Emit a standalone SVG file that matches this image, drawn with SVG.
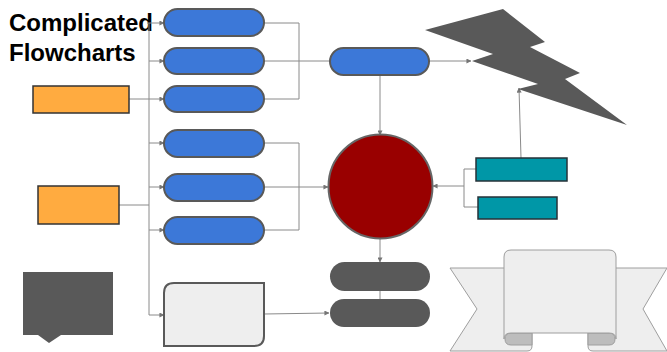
<svg xmlns="http://www.w3.org/2000/svg" width="667" height="352" viewBox="0 0 667 352">
  <defs>
    <marker id="arr" viewBox="0 0 6 6" refX="5.5" refY="3" markerWidth="5" markerHeight="5" orient="auto" markerUnits="userSpaceOnUse">
      <path d="M0,0 L6,3 L0,6 Z" fill="#757575"/>
    </marker>
  </defs>
  <style>
    .title { font-family: "Liberation Sans", Arial, sans-serif; font-weight: bold; font-size: 24px; fill: #000; }
    .pill { fill: #3c78d8; stroke: #595959; stroke-width: 2; }
    .dark { fill: #595959; stroke: none; }
    .orange { fill: #ffab40; stroke: #333333; stroke-width: 1.5; }
    .teal { fill: #0097a7; stroke: #263238; stroke-width: 1.5; }
    .wire { fill: none; stroke: #8a8a8a; stroke-width: 1; }
    .banner { fill: #eeeeee; stroke: #9e9e9e; stroke-width: 1; stroke-linejoin: round; }
    .fold { fill: #bdbdbd; stroke: #9e9e9e; stroke-width: 1; }
  </style>

  <text class="title" x="9" y="31">Complicated</text>
  <text class="title" x="9" y="61">Flowcharts</text>

  <!-- connectors -->
  <g id="connectors">
    <!-- left bus -->
    <path class="wire" d="M147,23 H149 V315"/>
    <path class="wire" d="M149,23 H164" marker-end="url(#arr)"/>
    <path class="wire" d="M149,61 H164" marker-end="url(#arr)"/>
    <path class="wire" d="M129,99 H164" marker-end="url(#arr)"/>
    <path class="wire" d="M149,143 H164" marker-end="url(#arr)"/>
    <path class="wire" d="M149,187 H164" marker-end="url(#arr)"/>
    <path class="wire" d="M149,230 H164" marker-end="url(#arr)"/>
    <path class="wire" d="M149,315 H164" marker-end="url(#arr)"/>
    <path class="wire" d="M119,205 H149"/>
    <!-- first group merge -->
    <path class="wire" d="M264,23 H299 V99 H264"/>
    <path class="wire" d="M264,61 H330"/>
    <!-- second group merge -->
    <path class="wire" d="M264,143 H299 V230 H264"/>
    <path class="wire" d="M264,187 H328" marker-end="url(#arr)"/>
    <!-- top pill outputs -->
    <path class="wire" d="M429,61 H471" marker-end="url(#arr)"/>
    <path class="wire" d="M380,75 V135" marker-end="url(#arr)"/>
    <!-- teal merge into circle -->
    <path class="wire" d="M476,169 H464 V207 H478"/>
    <path class="wire" d="M464,186 H433" marker-end="url(#arr)"/>
    <path class="wire" d="M521,158 L519,88" marker-end="url(#arr)"/>
    <!-- circle to dark pills -->
    <path class="wire" d="M380,239 V262" marker-end="url(#arr)"/>
    <path class="wire" d="M380,291 V299"/>
    <path class="wire" d="M264,314 L329,313" marker-end="url(#arr)"/>
  </g>

  <!-- input boxes -->
  <g id="orange-1"><rect class="orange" x="33" y="86" width="96" height="27"/></g>
  <g id="orange-2"><rect class="orange" x="38" y="186" width="81" height="38"/></g>

  <!-- first pill group -->
  <g id="pill-1"><rect class="pill" x="164" y="9" width="100" height="27" rx="13.5"/></g>
  <g id="pill-2"><rect class="pill" x="164" y="48" width="100" height="26" rx="13"/></g>
  <g id="pill-3"><rect class="pill" x="164" y="86" width="100" height="26" rx="13"/></g>

  <!-- second pill group -->
  <g id="pill-4"><rect class="pill" x="164" y="130" width="100" height="27" rx="13.5"/></g>
  <g id="pill-5"><rect class="pill" x="164" y="174" width="100" height="27" rx="13.5"/></g>
  <g id="pill-6"><rect class="pill" x="164" y="217" width="100" height="27" rx="13.5"/></g>

  <!-- merge pill -->
  <g id="pill-top"><rect class="pill" x="330" y="48" width="99" height="27" rx="13.5"/></g>

  <!-- lightning bolt -->
  <g id="bolt">
    <polygon class="dark" points="425,30 503,9 545,42 530,47 580,73 565,79 627,125 518,89 538,84 472,61 493,54"/>
  </g>

  <!-- central circle -->
  <g id="circle"><circle cx="380.5" cy="186.5" r="52" fill="#990000" stroke="#666666" stroke-width="2"/></g>

  <!-- teal inputs -->
  <g id="teal-1"><rect class="teal" x="476" y="158" width="91" height="23"/></g>
  <g id="teal-2"><rect class="teal" x="478" y="197" width="79" height="22"/></g>

  <!-- dark pills -->
  <g id="dark-pill-1"><rect class="dark" x="330" y="262" width="100" height="29" rx="14.5"/></g>
  <g id="dark-pill-2"><rect class="dark" x="330" y="299" width="100" height="28" rx="14"/></g>

  <!-- diagonal rounded box -->
  <g id="round-box">
    <path d="M174,283 H264 V336 Q264,346 254,346 H164 V293 Q164,283 174,283 Z" fill="#eeeeee" stroke="#595959" stroke-width="2"/>
  </g>

  <!-- callout -->
  <g id="callout">
    <path class="dark" d="M23,272 H113 V335 H61 L49,343 L38,335 H23 Z"/>
  </g>

  <!-- ribbon banner -->
  <g id="banner">
    <path class="banner" d="M450,268 H532 V346 Q532,351 527,351 H450 L477,309 Z"/>
    <path class="banner" d="M667,268 H588 V346 Q588,351 593,351 H667 L643,309 Z"/>
    <path class="fold" d="M532,333 H511 Q505,333 505,339 Q505,345 511,345 H532 Z"/>
    <path class="fold" d="M588,333 H609 Q615,333 615,339 Q615,345 609,345 H588 Z"/>
    <path class="banner" d="M504,339 V257 Q504,250 511,250 H609 Q616,250 616,257 V339 Q616,333 609,333 H511 Q504,333 504,339 Z"/>
  </g>
</svg>
